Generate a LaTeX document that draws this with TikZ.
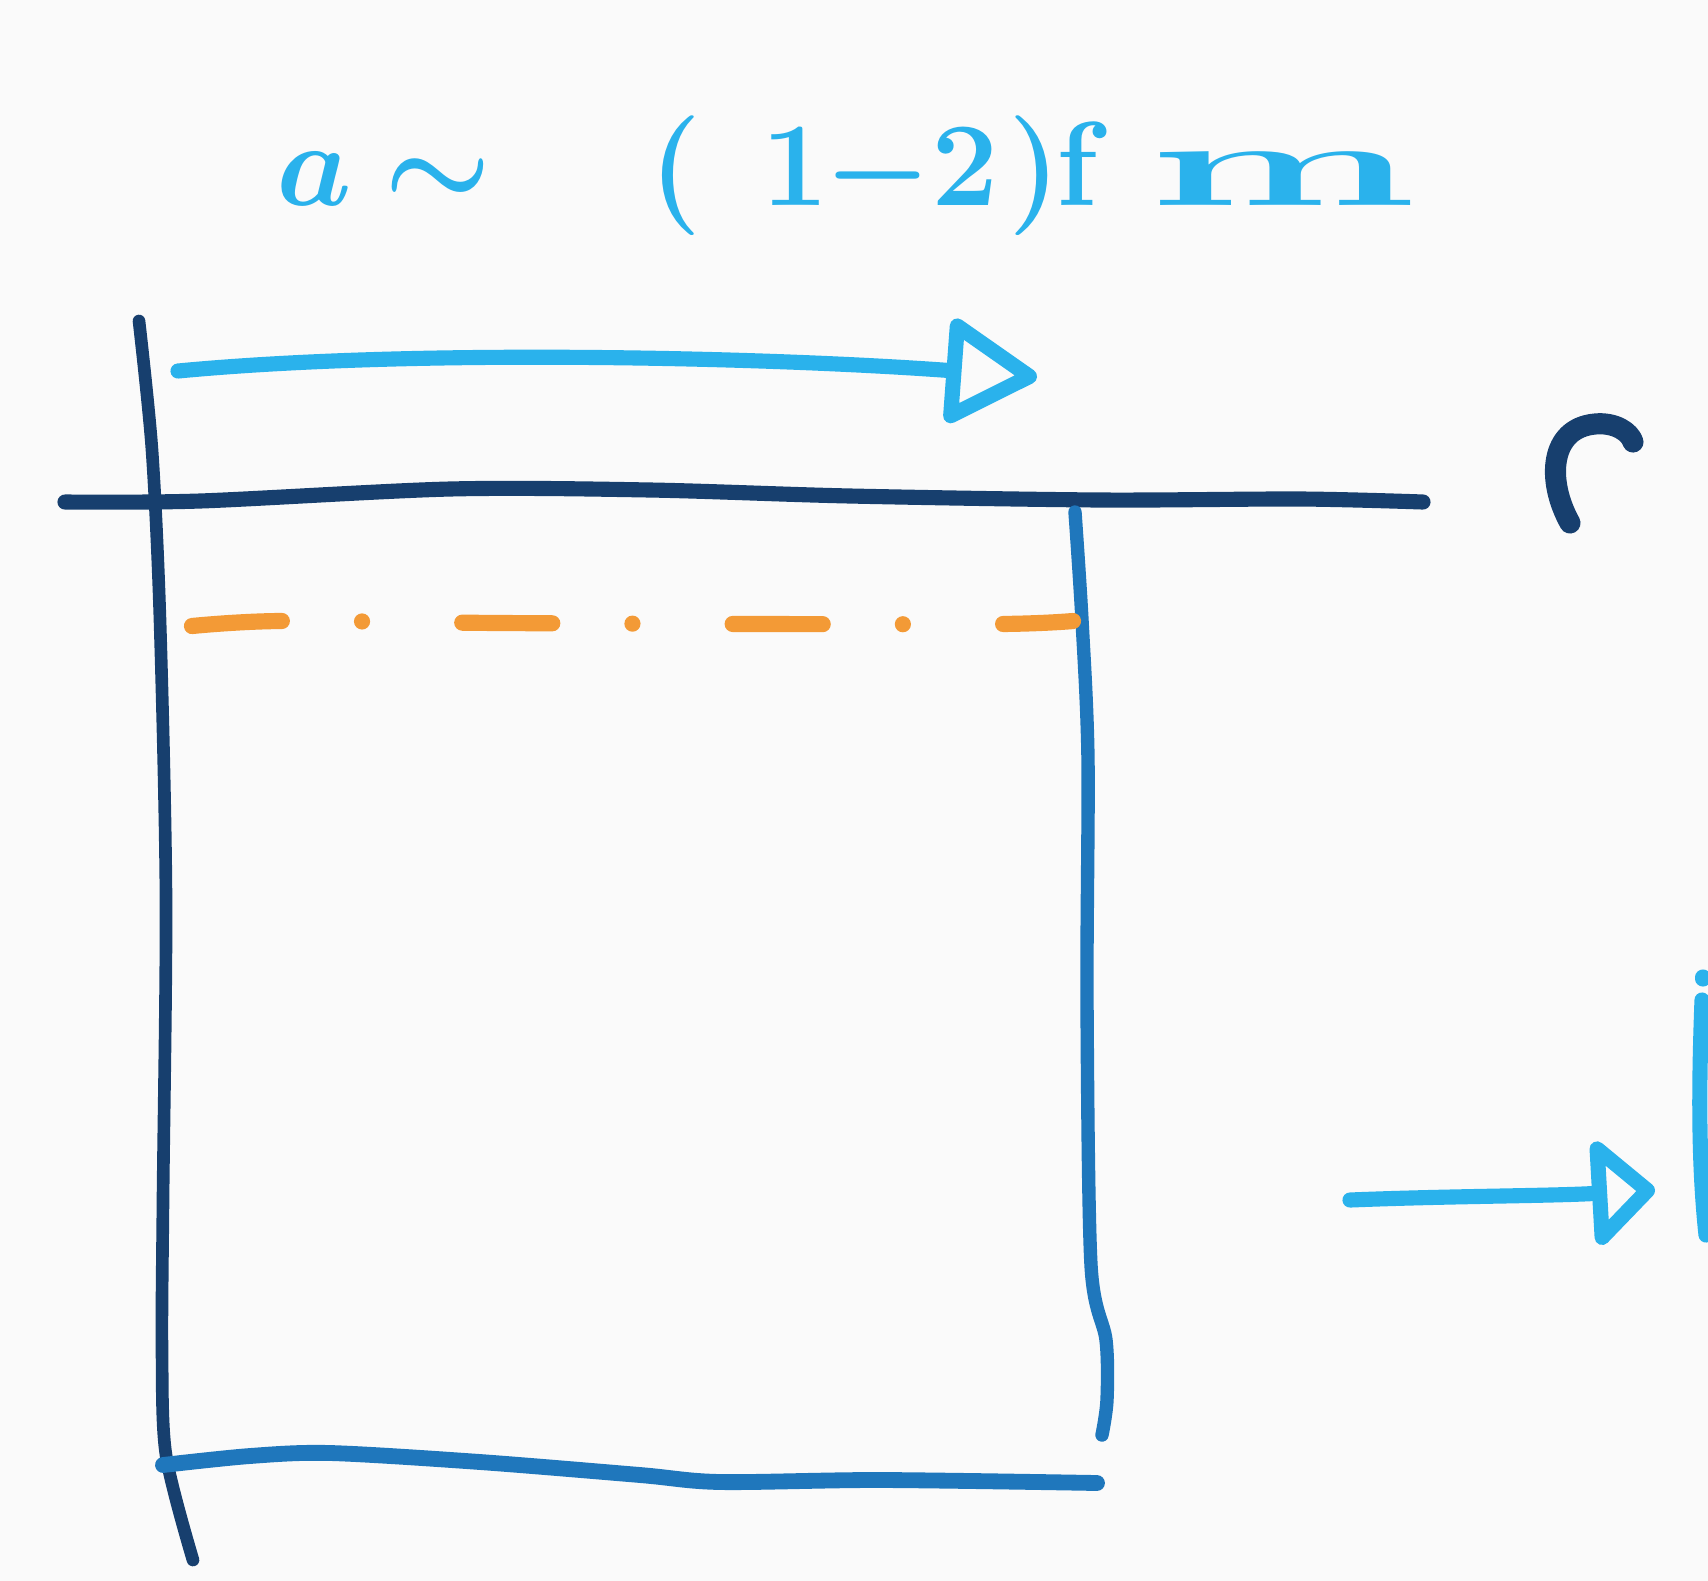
\documentclass[tikz,border=0pt]{standalone}
\usepackage{amsmath}
\usepackage{graphicx}
\usetikzlibrary{arrows.meta}
\definecolor{navy}{HTML}{173F6E}
\definecolor{midblue}{HTML}{1F77BC}
\definecolor{skyblue}{HTML}{2AB2EC}
\definecolor{penorange}{HTML}{F39A36}
\definecolor{paper}{HTML}{FAFAFA}

\begin{document}
\begin{tikzpicture}[x=0.01cm, y=-0.01cm, line cap=round, line join=round,
    wall/.style={navy, line width=3.6pt},
    tube/.style={midblue, line width=3.8pt},
    flow/.style={skyblue, line width=4.3pt},
    waterline/.style={penorange, line width=4.6pt, dash pattern=on 25.6pt off 22.8pt on 0pt off 28.5pt}]
    \fill[paper] (0,0) rectangle (1708,1581);
    \useasboundingbox (0,0) rectangle (1708,1581);

    % label
    \node[skyblue, anchor=base west, inner sep=0pt, font=\fontsize{24.88}{30}\selectfont\boldmath] (size) at (276,205)
        {\scalebox{1.367}{$a\hspace{6.6pt}{\sim}\hspace{33pt}(\hspace{12.4pt}1\hspace{-1pt}{-}\hspace{0pt}2\hspace{2.2pt})\hspace{-1pt}\mathrm{f}\hspace{8pt}\scalebox{2.4}[1]{$\mathrm{m}$}$}};

    % arrow over the box
    \coordinate (topstart) at (178,371);
    \coordinate (toptip) at (1037,377);
    \draw[flow, -{Triangle[open, length=28pt, width=32pt, round]}] (topstart) .. controls (420,348) and (780,358) .. (toptip);

    % walls
    \draw[wall, line width=4.3pt] plot[smooth] coordinates {(65,502) (200,501) (450,489) (650,490) (850,496) (1100,500) (1300,499) (1423,502)};
    \draw[wall] plot[smooth] coordinates {(139,321) (152,450) (160,620) (166,900) (163,1200) (162,1350) (166,1455) (193,1560)};
    \draw[tube] plot[smooth] coordinates {(1075,512) (1082,620) (1088,760) (1087,1000) (1091,1265) (1106,1340) (1107,1400) (1102,1435)};
    \draw[tube, line width=4.5pt] plot[smooth] coordinates {(163,1465) (250,1456) (330,1453) (480,1462) (640,1475) (720,1482) (880,1480) (1097,1483)};

    % dash-dot line inside
    \draw[waterline] plot[smooth] coordinates {(192,626) (280,621) (500,623) (750,624) (1000,624) (1073,621)};

    % mark on the right
    \draw[navy, line width=6pt] (1570,523) .. controls (1546,480) and (1550,428) .. (1595,424) .. controls (1615,422) and (1630,432) .. (1633,442);

    % small arrow and stroke at the edge
    \coordinate (sidestart) at (1350,1200);
    \coordinate (sidetip) at (1655,1190);
    \draw[flow, -{Triangle[open, length=19pt, width=34pt, round]}] (sidestart) .. controls (1450,1196) and (1550,1196) .. (sidetip);
    \draw[flow] (1703,977) -- (1703,979);
    \draw[flow] (1702,1000) .. controls (1699,1080) and (1698,1160) .. (1706,1235);
\end{tikzpicture}
\end{document}
